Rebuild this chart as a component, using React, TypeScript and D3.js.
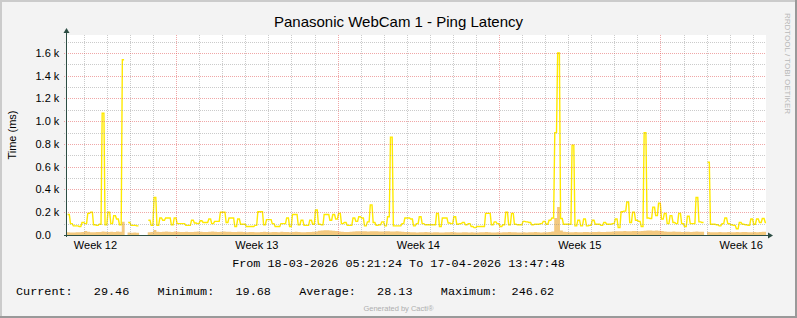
import React from 'react';
import * as d3 from 'd3';

const W = 797;
const H = 318;

const TITLE = 'Panasonic WebCam 1 - Ping Latency';
const Y_LABEL = 'Time (ms)';
const WATERMARK = 'RRDTOOL / TOBI OETIKER';
const FOOTER = 'Generated by Cacti®';
const RANGE_TEXT = 'From 18-03-2026 05:21:24 To 17-04-2026 13:47:48';

const START = Date.UTC(2026, 2, 18, 5, 21, 24);
const END = Date.UTC(2026, 3, 17, 13, 47, 48);
const DATA_START = Date.UTC(2026, 2, 18, 6, 24, 0);
const STEP_MS = 3 * 3600 * 1000;

const Y_MAX = 1758;
const Y_MAJOR = [0, 200, 400, 600, 800, 1000, 1200, 1400, 1600];
const Y_MAJOR_LABELS = ['0.0', '0.2 k', '0.4 k', '0.6 k', '0.8 k', '1.0 k', '1.2 k', '1.4 k', '1.6 k'];
const Y_MINOR = [100, 300, 500, 700, 900, 1100, 1300, 1500, 1700];

const LEGEND_NAMES = ['Current:', 'Minimum:', 'Average:', 'Maximum:'];
const LEGEND_VALUES = ['29.46', '19.68', '28.13', '246.62'];

// Peak ping (yellow line), one value every 3 hours, null = no data
const PEAK: (number | null)[] = [
  180, 100, 80, 80, 75, 110, 100, 190, 200, 90,
  85, 95, 1070, 90, 200, 100, 170, 140, 90, 1540,
  null, 110, 85, 85, 80, null, null, null, 130, 85,
  330, 85, 150, 130, 150, 150, 90, 150, 100, 100,
  100, 85, 85, 130, 105, 100, 125, 110, 110, 140,
  100, 120, 120, 200, 200, 110, 150, 150, 75, 140,
  95, 95, 75, 75, 75, 85, 205, 205, 90, 135,
  135, 100, 75, 75, 100, 100, 150, 75, 180, 180,
  90, 130, 85, 85, 130, 95, 220, 95, 90, 180,
  180, 130, 180, 140, 190, 100, 110, 85, 85, 150,
  120, 160, 150, 80, 115, 265, 110, 85, 90, 115,
  80, 160, 860, 80, 80, 80, 100, 150, 150, 140,
  80, 100, 160, 100, 90, 90, 90, 90, 190, 75,
  150, 150, 105, 100, 160, 95, 100, 110, 90, 100,
  75, 65, 75, 75, 75, 190, 190, 90, 115, 100,
  75, 90, 200, 90, 190, 95, 90, 90, 120, 115,
  110, 90, 95, 95, 100, 120, 95, 130, 150, 900,
  1600, 145, 95, 95, 95, 790, 80, 130, 80, 140,
  80, 85, 130, 95, 95, 85, 110, 95, 95, 100,
  140, 65, 205, 210, 290, 110, 200, 130, 120, 75,
  900, 150, 145, 245, 170, 280, 140, 190, 100, 170,
  110, 100, 190, 100, 75, 165, 100, 100, 330, 115,
  110, null, 640, 95, 95, 90, 80, 100, 150, 100,
  90, 85, 55, 110, 95, 90, 85, 140, 95, 140,
  110, 145, 110,
];

// Average ping (tan area)
const AVG: (number | null)[] = [
  24, 22, 23, 25, 24, 26, 35, 28, 25, 24,
  26, 27, 30, 28, 27, 29, 26, 31, 28, 117,
  null, 22, 20, 21, 20, null, null, null, 24, 26,
  45, 28, 27, 29, 30, 28, 27, 30, 29, 26,
  27, 28, 27, 26, 28, 30, 29, 27, 26, 28,
  31, 29, 27, 28, 30, 29, 28, 26, 27, 29,
  28, 26, 25, 27, 26, 24, 25, 27, 28, 26,
  25, 27, 26, 25, 28, 27, 26, 25, 27, 28,
  26, 25, 24, 26, 27, 28, 30, 38, 40, 42,
  41, 40, 38, 35, 30, 28, 27, 26, 28, 30,
  33, 34, 33, 32, 31, 34, 33, 32, 30, 31,
  33, 32, 30, 31, 32, 30, 28, 27, 26, 25,
  24, 23, 24, 25, 26, 24, 23, 24, 25, 23,
  22, 24, 25, 26, 24, 23, 22, 24, 25, 23,
  24, 22, 23, 24, 25, 26, 24, 23, 22, 24,
  23, 25, 24, 26, 25, 24, 23, 22, 24, 23,
  25, 24, 26, 25, 23, 24, 25, 26, 30, 150,
  247, 40, 28, 26, 25, 24, 26, 25, 24, 26,
  27, 25, 26, 27, 28, 27, 26, 28, 29, 30,
  32, 33, 34, 35, 33, 34, 36, 35, 34, 36,
  38, 40, 39, 38, 40, 37, 35, 30, 29, 28,
  30, 29, 28, 27, 28, 29, 27, 28, 30, 29,
  28, null, 26, 25, 24, 25, 26, 24, 25, 26,
  25, 24, 26, 25, 27, 26, 25, 24, 26, 25,
  27, 28, 29,
];

const PL = 66;
const PR = 766;
const PT = 35;
const PB = 235;

const SANS = '"Liberation Sans", Arial, sans-serif';
const MONO = '"Liberation Mono", "DejaVu Sans Mono", monospace';
const AXIS = '#2C4D43';
const MINOR_C = 'rgba(140,140,140,0.45)';
const MAJOR_C = 'rgba(225,80,80,0.5)';

type P = [number, number | null];

// each sample drawn as a short plateau with sloped transitions
function plateauPoints(vals: (number | null)[], a: number, b: number): P[] {
  const pts: P[] = [];
  vals.forEach((v, i) => {
    const t0 = DATA_START + i * STEP_MS;
    if (v == null) {
      pts.push([t0, null]);
    } else {
      pts.push([t0 + a * STEP_MS, v]);
      pts.push([t0 + b * STEP_MS, v]);
    }
  });
  return pts;
}

export default function App() {
  const x = d3.scaleUtc().domain([START, END]).range([PL, PR]);
  const y = d3.scaleLinear().domain([0, Y_MAX]).range([PB, PT]);

  const peakPts = plateauPoints(PEAK, 0.2, 0.8);
  const avgPts = plateauPoints(AVG, 0.0, 1.0);

  const line = d3
    .line<P>()
    .defined((d) => d[1] != null)
    .x((d) => x(d[0]))
    .y((d) => y(d[1] as number));
  const area = d3
    .area<P>()
    .defined((d) => d[1] != null)
    .x((d) => x(d[0]))
    .y0(y(0))
    .y1((d) => y(d[1] as number));

  const days = d3.utcDay.range(d3.utcDay.ceil(new Date(START)), new Date(END));
  const mondays = d3.utcMonday.range(d3.utcMonday.ceil(new Date(START)), new Date(END));
  const mondaySet = new Set(mondays.map((d) => +d));
  const minorDays = days.filter((d) => !mondaySet.has(+d));
  const weekStarts = d3.utcMonday.range(
    d3.utcMonday.floor(new Date(START)),
    new Date(END)
  );
  const fmtWeek = d3.utcFormat('%V');
  const weekLabels = weekStarts
    .map((m) => ({ t: +m + 3.5 * 86400000, label: 'Week ' + +fmtWeek(m) }))
    .filter((w) => w.t >= START && w.t <= END);

  const charW = 7.08;
  const legendX0 = 16;
  const legendNameCols = [0, 20, 40, 60];
  const legendValueEndCols = [16, 36, 56, 76];

  return (
    <svg
      width={W}
      height={H}
      style={{ position: 'absolute', left: 0, top: 0, display: 'block' }}
      xmlns="http://www.w3.org/2000/svg"
    >
      <defs>
        <clipPath id="plotclip">
          <rect x={PL} y={PT - 2} width={PR - PL} height={PB - PT + 2} />
        </clipPath>
      </defs>
      <rect x={0} y={0} width={W} height={H} fill="#F3F3F3" />
      <rect x={0} y={0} width={W} height={2} fill="#CBCBCB" />
      <rect x={0} y={0} width={2} height={H} fill="#CBCBCB" />
      <rect x={0} y={H - 2} width={W} height={2} fill="#999999" />
      <rect x={W - 2} y={0} width={2} height={H} fill="#999999" />

      <rect x={PL} y={PT} width={PR - PL} height={PB - PT} fill="#FFFFFF" />

      <g clipPath="url(#plotclip)">
        <path d={area(avgPts) || ''} fill="#F3C97F" />
        <path
          d={line(peakPts) || ''}
          fill="none"
          stroke="#FFEA00"
          strokeWidth={1.4}
          strokeLinejoin="miter"
        />
      </g>

      {/* grid */}
      <g shapeRendering="crispEdges">
        {Y_MINOR.map((v) => (
          <line
            key={'ym' + v}
            x1={PL - 2}
            x2={PR}
            y1={Math.round(y(v)) + 0.5}
            y2={Math.round(y(v)) + 0.5}
            stroke={MINOR_C}
            strokeDasharray="1,1"
          />
        ))}
        {minorDays.map((d) => (
          <line
            key={'xm' + +d}
            x1={Math.round(x(d)) + 0.5}
            x2={Math.round(x(d)) + 0.5}
            y1={PT}
            y2={PB + 2}
            stroke={MINOR_C}
            strokeDasharray="1,1"
          />
        ))}
        {Y_MAJOR.slice(1).map((v) => (
          <line
            key={'yM' + v}
            x1={PL - 2}
            x2={PR}
            y1={Math.round(y(v)) + 0.5}
            y2={Math.round(y(v)) + 0.5}
            stroke={MAJOR_C}
            strokeDasharray="1,1"
          />
        ))}
        {mondays.map((d) => (
          <line
            key={'xM' + +d}
            x1={Math.round(x(d)) + 0.5}
            x2={Math.round(x(d)) + 0.5}
            y1={PT}
            y2={PB + 3}
            stroke={MAJOR_C}
            strokeDasharray="1,1"
          />
        ))}
      </g>

      {/* axes */}
      <g shapeRendering="crispEdges">
        <line x1={PL + 0.5} x2={PL + 0.5} y1={PB + 2} y2={PT - 4} stroke={AXIS} />
        <line x1={PL - 2} x2={PR + 4} y1={PB + 0.5} y2={PB + 0.5} stroke={AXIS} />
      </g>
      <path
        d={`M${PL - 2.5},${PT - 2} L${PL + 0.5},${PT - 7} L${PL + 3.5},${PT - 2} Z`}
        fill={AXIS}
      />
      <path
        d={`M${PR + 2},${PB - 2.5} L${PR + 7},${PB + 0.5} L${PR + 2},${PB + 3.5} Z`}
        fill={AXIS}
      />

      {/* y labels */}
      {Y_MAJOR.map((v, i) => (
        <text
          key={'yl' + v}
          x={35.5}
          y={y(v) + 4}
          fontFamily={SANS}
          fontSize={11}
          fill="#000"
        >
          {Y_MAJOR_LABELS[i]}
        </text>
      ))}

      {/* x labels */}
      {weekLabels.map((w) => (
        <text
          key={w.label}
          x={x(w.t)}
          y={249}
          textAnchor="middle"
          fontFamily={SANS}
          fontSize={11}
          fill="#000"
        >
          {w.label}
        </text>
      ))}

      <text
        x={398.5}
        y={27}
        textAnchor="middle"
        fontFamily={SANS}
        fontSize={15}
        fill="#000"
      >
        {TITLE}
      </text>

      <text
        transform={`translate(16, ${(PT + PB) / 2}) rotate(-90)`}
        textAnchor="middle"
        fontFamily={SANS}
        fontSize={11}
        fill="#000"
      >
        {Y_LABEL}
      </text>

      <text
        transform="translate(784.5, 13) rotate(90)"
        fontFamily={SANS}
        fontSize={8}
        fill="#B8B8B8"
      >
        {WATERMARK}
      </text>

      <text
        x={398.5}
        y={267}
        textAnchor="middle"
        fontFamily={MONO}
        fontSize={11.8}
        fill="#000"
      >
        {RANGE_TEXT}
      </text>

      {LEGEND_NAMES.map((n, i) => (
        <g key={n}>
          <text
            x={legendX0 + legendNameCols[i] * charW}
            y={295}
            fontFamily={MONO}
            fontSize={11.8}
            fill="#000"
          >
            {n}
          </text>
          <text
            x={legendX0 + legendValueEndCols[i] * charW}
            y={295}
            textAnchor="end"
            fontFamily={MONO}
            fontSize={11.8}
            fill="#000"
          >
            {LEGEND_VALUES[i]}
          </text>
        </g>
      ))}

      <text
        x={398.5}
        y={311}
        textAnchor="middle"
        fontFamily={SANS}
        fontSize={7.5}
        fill="#AFAFAF"
      >
        {FOOTER}
      </text>
    </svg>
  );
}
